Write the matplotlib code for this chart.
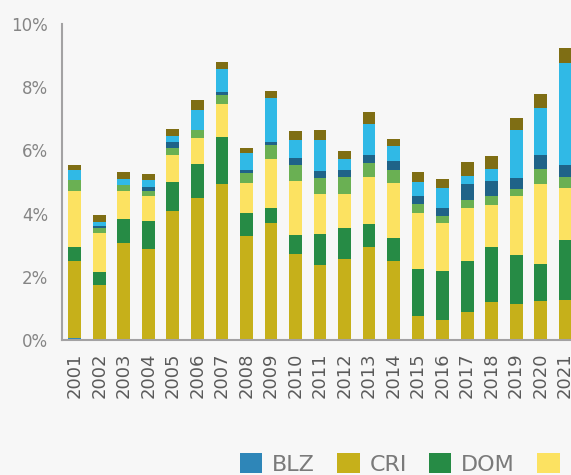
import numpy as np
import matplotlib
matplotlib.use("Agg")
import matplotlib.pyplot as plt

years = [str(y) for y in range(2001, 2022)]
countries = ["BLZ", "CRI", "DOM", "GTM", "HND", "NIC", "PAN", "SLV"]
colors = ["#2e86b8", "#c6b01a", "#268b45", "#fce261", "#6ab053", "#1f6388", "#30b9e6", "#7f6e14"]

# share of GDP (%) per country
BLZ = [0.07, 0, 0, 0, 0, 0, 0, 0, 0, 0, 0, 0, 0, 0, 0, 0, 0, 0, 0, 0, 0]
CRI = [2.42, 1.74, 3.06, 2.87, 4.07, 4.48, 4.93, 3.28, 3.69, 2.72, 2.37,
       2.56, 2.94, 2.49, 0.76, 0.63, 0.88, 1.20, 1.14, 1.23, 1.26]
DOM = [0.45, 0.41, 0.76, 0.89, 0.92, 1.08, 1.48, 0.73, 0.48, 0.60, 0.98,
       0.98, 0.72, 0.73, 1.48, 1.55, 1.61, 1.74, 1.54, 1.17, 1.90]
GTM = [1.77, 1.23, 0.89, 0.79, 0.85, 0.82, 1.07, 0.95, 1.55, 1.70, 1.26,
       1.07, 1.49, 1.74, 1.77, 1.51, 1.68, 1.32, 1.87, 2.53, 1.64]
HND = [0.34, 0.16, 0.18, 0.16, 0.25, 0.28, 0.26, 0.31, 0.44, 0.51, 0.51,
       0.54, 0.44, 0.41, 0.28, 0.23, 0.25, 0.29, 0.22, 0.47, 0.35]
NIC = [0.00, 0.06, 0.00, 0.12, 0.19, 0.00, 0.12, 0.10, 0.12, 0.22, 0.22,
       0.22, 0.28, 0.31, 0.26, 0.25, 0.51, 0.47, 0.35, 0.47, 0.38]
PAN = [0.32, 0.13, 0.19, 0.22, 0.19, 0.63, 0.73, 0.54, 1.39, 0.57, 0.98,
       0.35, 0.98, 0.45, 0.44, 0.63, 0.25, 0.38, 1.54, 1.46, 3.25]
SLV = [0.16, 0.22, 0.23, 0.19, 0.22, 0.32, 0.22, 0.18, 0.22, 0.28, 0.31,
       0.25, 0.38, 0.22, 0.32, 0.28, 0.44, 0.41, 0.38, 0.47, 0.47]

series = [BLZ, CRI, DOM, GTM, HND, NIC, PAN, SLV]

fig = plt.figure(figsize=(5.71, 4.75), dpi=100, facecolor="#f7f7f7")
ax = fig.add_axes([62 / 571, 135 / 475, 516 / 571, 316 / 475])
ax.set_facecolor("#f7f7f7")

x = np.arange(len(years))
bottom = np.zeros(len(years))
for name, vals, col in zip(countries, series, colors):
    ax.bar(x, vals, width=0.53, bottom=bottom, color=col, label=name, linewidth=0)
    bottom += np.array(vals)

ax.set_xlim(-0.53, 20.53)
ax.set_ylim(0, 10)
ax.set_yticks(range(0, 11, 2))
ax.set_yticklabels(["{}%".format(v) for v in range(0, 11, 2)])
ax.set_xticks(x)
ax.set_xticklabels(years, rotation=90)

for s in ["top", "right"]:
    ax.spines[s].set_visible(False)
for s in ["left", "bottom"]:
    ax.spines[s].set_color("#a3a2a3")
    ax.spines[s].set_linewidth(1.5)

ax.tick_params(axis="y", length=0, pad=10, labelsize=12, labelcolor="#858585")
ax.tick_params(axis="x", length=0, pad=9, labelsize=13, labelcolor="#5a5a5a")

# legend runs off the right edge like in the original
fig.legend(loc="center left", bbox_to_anchor=(240 / 571, 1 - 464 / 475),
           bbox_transform=fig.transFigure, ncol=8, frameon=False,
           fontsize=16, labelcolor="#7a7a7a", handlelength=1.0, handleheight=1.0,
           handletextpad=0.45, columnspacing=1.0, borderpad=0, borderaxespad=0)

fig.savefig("out.png", dpi=100, facecolor=fig.get_facecolor())
